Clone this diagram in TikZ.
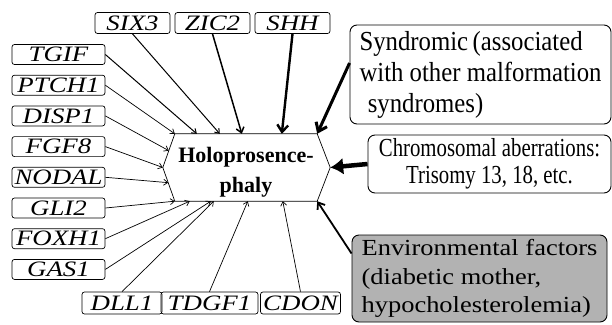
\documentclass[tikz,border=0pt]{standalone}
\usepackage{fontspec}
\setmainfont{Liberation Serif}
\newfontface\genefont{Liberation Serif Italic}[FakeStretch=1.22]
\newfontfamily\syndfont[FakeStretch=0.9]{Liberation Serif}
\newfontfamily\chromfont[FakeStretch=0.8]{Liberation Serif}
\newfontfamily\envfont[FakeStretch=1.15]{Liberation Serif}
\usetikzlibrary{positioning,calc,arrows.meta}

\begin{document}
\begin{tikzpicture}[node distance=30.7pt, x=1pt, y=-1pt, >={Straight Barb[length=4pt,width=6pt]}]
        \tikzstyle{gene}=[draw, rounded corners=2.5pt, inner sep=1pt, minimum height=20pt, line width=0.7pt, font=\genefont\fontsize{22}{24}\selectfont];
        \tikzstyle{lgene}=[gene, minimum width=93pt];
        \tikzstyle{tgene}=[gene, minimum width=75pt, minimum height=21pt];
        \tikzstyle{cause}=[draw, rounded corners=7pt, line width=0.9pt];
        \tikzstyle{weak}=[->, line width=0.7pt];

        \useasboundingbox (0,0) rectangle (612,324);

        % centre
        \node[minimum width=142pt, minimum height=67pt, inner sep=2pt, align=center, font=\bfseries\fontsize{22}{29.5}\selectfont] (holo) at (246,167.5) {\rule{0pt}{25pt}Holoprosence-\\phaly};
        \coordinate (hl) at ([xshift=-12pt]holo.west);
        \coordinate (hr) at ([xshift=13pt]holo.east);
        \draw[line width=0.7pt] (holo.north west) -- (holo.north east) -- (hr) -- (holo.south east) -- (holo.south west) -- (hl) -- cycle;

        % genes
        \node[lgene] (tgif) at (58.5,54.5) {TGIF};
        \node[lgene, below of=tgif] (ptch1) {PTCH1};
        \node[lgene, below of=ptch1] (disp1) {DISP1};
        \node[lgene, below of=disp1] (fgf8) {FGF8};
        \node[lgene, below of=fgf8] (nodal) {NODAL};
        \node[lgene, below of=nodal] (gli2) {GLI2};
        \node[lgene, below of=gli2] (foxh1) {FOXH1};
        \node[lgene, below of=foxh1] (gas1) {GAS1};

        \node[tgene] (six3) at (132.5,23) {SIX3};
        \node[tgene, right of=six3, xshift=49.3pt] (zic2) {ZIC2};
        \node[tgene, right of=zic2, xshift=49.3pt] (shh) {SHH};

        \node[gene, minimum width=80pt, minimum height=22pt] (dll1) at (122,303) {DLL1};
        \node[gene, minimum width=97pt, minimum height=22pt] (tdgf1) at (209.5,303) {TDGF1};
        \node[gene, minimum width=80pt, minimum height=22pt] (cdon) at (300.5,303) {CDON};

        % other causes
        \node[cause, minimum width=261pt, minimum height=99pt, inner sep=2pt, align=left, font=\syndfont\fontsize{27.5}{31}\selectfont] (synd) at (480.5,74.5) {Syndromic\,(associated\\with other malformation\\\hspace*{0.3em}syndromes)};
        \node[cause, minimum width=243pt, minimum height=58pt, inner sep=2pt, align=center, font=\chromfont\fontsize{26}{26.5}\selectfont] (chrom) at (489.5,164) {Chromosomal aberrations:\\Trisomy 13, 18, etc.};
        \node[cause, fill=black!30, minimum width=255pt, minimum height=87pt, inner sep=2pt, align=left, font=\envfont\fontsize{23}{28.5}\selectfont] (env) at (479.5,278.5) {Environmental factors\\(diabetic mother,\\hypocholesterolemia)};

        \draw[weak] (ptch1.east) -- (holo.north west);
        \draw[weak, line width=1pt] (tgif.east) -- ([xshift=22pt]holo.north west);
        \draw[weak, line width=1pt] (six3.south) -- ([xshift=45pt]holo.north west);
        \draw[-{Straight Barb[length=5pt,width=8pt]}, line width=1.5pt] (zic2.south) -- ([xshift=67pt]holo.north west);
        \draw[-{Straight Barb[length=7pt,width=11pt]}, line width=2.4pt] (shh.south) -- ([xshift=107pt]holo.north west);
        \draw[-{Straight Barb[length=8pt,width=12pt]}, line width=3pt] ([yshift=11.5pt]synd.west) -- (holo.north east);
        \draw[-{Latex[length=13pt,width=17pt]}, line width=4.5pt] (chrom.west) -- (hr);
        \draw[-{Straight Barb[length=6pt,width=9pt]}, line width=1.8pt] ([yshift=25pt]env.west) -- (holo.south east);

        \draw[weak] (disp1.east) -- ($(holo.north west)!0.5!(hl)$);
        \draw[weak] (fgf8.east) -- (hl);
        \draw[weak] (nodal.east) -- ($(hl)!0.45!(holo.south west)$);
        \draw[weak] (gli2.east) -- (holo.south west);
        \draw[weak] (foxh1.east) -- ([xshift=15pt]holo.south west);
        \draw[weak] (gas1.east) -- ([xshift=36pt]holo.south west);
        \draw[weak] (dll1.north) -- ([xshift=39pt]holo.south west);
        \draw[weak] (tdgf1.north) -- ([xshift=73pt]holo.south west);
        \draw[weak] (cdon.north) -- ([xshift=108pt]holo.south west);
    \end{tikzpicture}
\end{document}
